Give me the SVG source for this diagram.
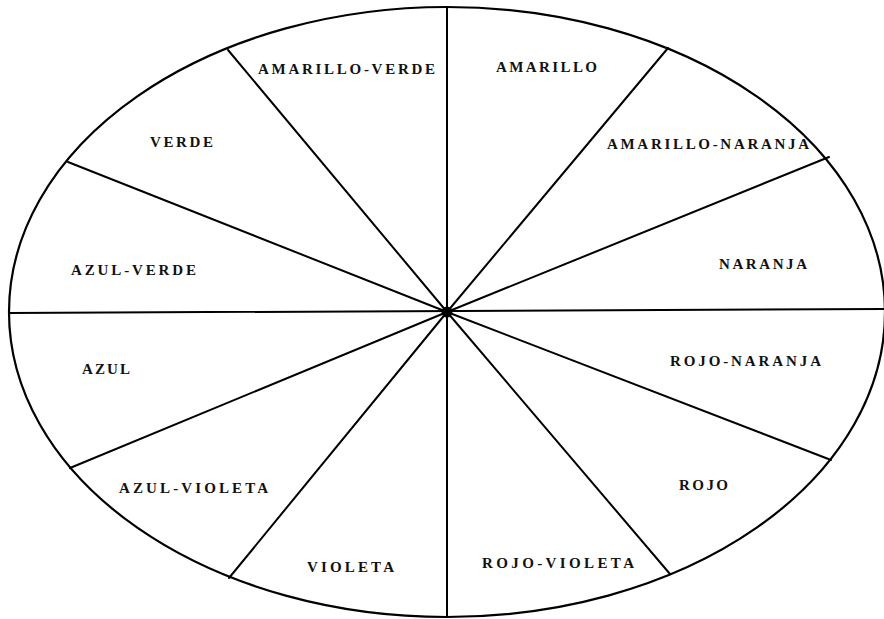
<svg xmlns="http://www.w3.org/2000/svg" width="884" height="619" viewBox="0 0 884 619">
<style>
.rim{fill:none;stroke:#000;stroke-width:2.2}
.spoke{stroke:#000;stroke-width:2;stroke-linecap:round}
.lbl{font-family:"Liberation Serif","DejaVu Serif",serif;font-size:15px;font-weight:bold;fill:#111}
</style>
<rect width="884" height="619" fill="#fff"/>
<ellipse class="rim" cx="447" cy="312" rx="438" ry="305"/>
<g id="spokes">
<line class="spoke" x1="447" y1="7" x2="447" y2="617"/>
<line class="spoke" x1="9" y1="313" x2="884" y2="309"/>
<line class="spoke" x1="447" y1="312" x2="228" y2="50"/>
<line class="spoke" x1="447" y1="312" x2="68" y2="162"/>
<line class="spoke" x1="447" y1="312" x2="668" y2="48"/>
<line class="spoke" x1="447" y1="312" x2="829" y2="157"/>
<line class="spoke" x1="447" y1="312" x2="70" y2="468"/>
<line class="spoke" x1="447" y1="312" x2="229" y2="578"/>
<line class="spoke" x1="447" y1="312" x2="831" y2="460"/>
<line class="spoke" x1="447" y1="312" x2="670" y2="574"/>
<circle cx="447" cy="312" r="5.5" fill="#000"/>
</g>
<g id="amarillo-verde"><text class="lbl" x="258" y="74" textLength="177" lengthAdjust="spacing">AMARILLO-VERDE</text></g>
<g id="verde"><text class="lbl" x="150" y="147" textLength="63" lengthAdjust="spacing">VERDE</text></g>
<g id="azul-verde"><text class="lbl" x="71" y="275" textLength="125" lengthAdjust="spacing">AZUL-VERDE</text></g>
<g id="amarillo"><text class="lbl" x="496" y="72" textLength="101" lengthAdjust="spacing">AMARILLO</text></g>
<g id="amarillo-naranja"><text class="lbl" x="607" y="149" textLength="202" lengthAdjust="spacing">AMARILLO-NARANJA</text></g>
<g id="naranja"><text class="lbl" x="719" y="269" textLength="88" lengthAdjust="spacing">NARANJA</text></g>
<g id="azul"><text class="lbl" x="82" y="374" textLength="48" lengthAdjust="spacing">AZUL</text></g>
<g id="azul-violeta"><text class="lbl" x="119" y="493" textLength="149" lengthAdjust="spacing">AZUL-VIOLETA</text></g>
<g id="violeta"><text class="lbl" x="307" y="572" textLength="87" lengthAdjust="spacing">VIOLETA</text></g>
<g id="rojo-naranja"><text class="lbl" x="670" y="366" textLength="151" lengthAdjust="spacing">ROJO-NARANJA</text></g>
<g id="rojo"><text class="lbl" x="679" y="490" textLength="49" lengthAdjust="spacing">ROJO</text></g>
<g id="rojo-violeta"><text class="lbl" x="482" y="568" textLength="152" lengthAdjust="spacing">ROJO-VIOLETA</text></g>
</svg>
